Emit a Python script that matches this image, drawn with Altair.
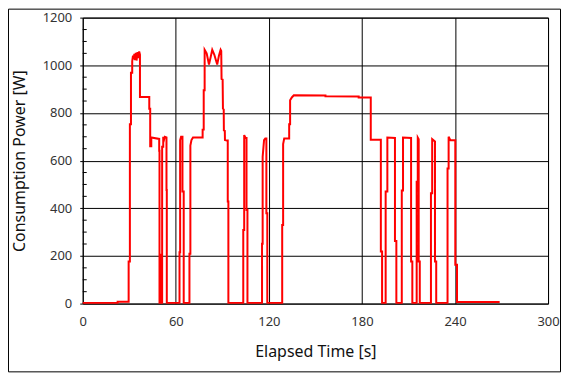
import altair as alt
import pandas as pd

# Elapsed time [s] and consumption power [W] (step-like trace)
time_s = [
    0, 22.5, 22.5, 29.6, 29.6, 30.4, 30.4, 31.1, 31.1, 31.9, 31.9, 32.4, 32.8, 33.3, 33.7, 34.2, 34.7,
    35.3, 35.8, 36.4, 36.9, 36.9, 42.9, 42.9, 43.5, 43.5, 44.2, 44.2, 49.3, 49.3, 49.5, 49.5, 50.1,
    50.1, 50.6, 50.6, 51.2, 51.2, 51.9, 51.9, 52.5, 52.9, 54.0, 54.0, 54.2, 54.2,
    62.4, 62.4, 62.8, 62.8, 63.4, 64.3, 64.3, 65.1, 65.1,
    68.8, 68.8, 69.4, 69.4, 70.1, 71.1, 77.3, 77.3, 78.0, 78.0, 78.6, 78.6, 79.9, 81.4, 82.5, 83.5,
    84.8, 86.7, 87.8, 88.9, 89.3, 89.5, 90.2, 90.4, 90.9, 91.0, 91.6, 91.7, 92.8, 93.5, 93.5, 93.9, 93.9,
    103.5, 103.5, 104.1, 104.1, 105.0, 105.6, 105.6, 106.2, 106.2,
    115.6, 115.6, 116.0, 116.0, 116.9, 117.7, 118.4, 118.4, 119.0, 119.0,
    128.6, 128.6, 129.2, 129.2, 129.9, 133.1, 133.1, 133.7, 133.7, 134.8, 136.1, 156.5, 156.5, 177.9,
    177.9, 185.7, 185.7, 192.2, 192.2, 193.0, 193.0,
    195.3, 195.3, 196.4, 196.4, 201.3, 201.3, 202.2, 202.2,
    205.7, 205.7, 206.5, 206.5, 211.7, 211.7, 212.5, 212.5,
    215.3, 215.3, 216.0, 216.0, 216.6, 216.6, 217.3, 217.3,
    224.5, 224.5, 225.3, 225.3, 227.1, 227.1, 227.9, 227.9,
    235.2, 235.2, 235.9, 235.9, 237.1, 240.2, 240.2, 241.3, 241.3, 268.8,
]
power_w = [
    3, 3, 8, 8, 177, 177, 753, 753, 969, 969, 1017, 1040, 1025, 1048, 1022, 1052, 1020,
    1055, 1030, 1058, 1045, 867, 867, 818, 818, 660, 660, 697, 691, 641, 641, 3, 3,
    205, 205, 3, 3, 658, 658, 700, 690, 700, 697, 477, 477, 3,
    3, 215, 215, 686, 700, 700, 470, 470, 3,
    3, 209, 209, 663, 686, 697, 697, 730, 730, 895, 895, 1065, 1050, 1003, 1035, 1065,
    1045, 1003, 1040, 1065, 1060, 943, 940, 818, 815, 727, 725, 686, 684, 684, 428, 428, 3,
    3, 309, 309, 707, 695, 695, 393, 393, 3,
    3, 251, 251, 616, 686, 693, 693, 379, 379, 3,
    3, 330, 330, 669, 693, 693, 753, 753, 853, 865, 874, 873, 870, 869,
    865, 865, 688, 688, 219, 219, 3,
    3, 470, 470, 697, 695, 263, 263, 3,
    3, 475, 475, 697, 695, 177, 177, 3,
    3, 511, 511, 697, 690, 177, 177, 3,
    3, 463, 463, 690, 680, 177, 177, 3,
    3, 567, 567, 700, 685, 685, 163, 163, 7, 7,
]

x_ticks = [0, 60, 120, 180, 240, 300]
y_ticks = [0, 200, 400, 600, 800, 1000, 1200]
y_minor = [50, 100, 150, 250, 300, 350, 450, 500, 550, 650, 700, 750, 850, 900, 950, 1050, 1100, 1150]

W, H = 467, 287
PAD = {"left": 75, "top": 9, "right": 13, "bottom": 69}

df = pd.DataFrame({"t": time_s, "p": power_w, "i": list(range(len(time_s)))})
minor_df = pd.DataFrame({"p": y_minor})
one = pd.DataFrame({"a": [0]})

FONT = "Noto Sans"

x_scale = alt.Scale(domain=[0, 300], nice=False, zero=False)
y_scale = alt.Scale(domain=[0, 1200], nice=False)

line = alt.Chart(df).mark_line(color="#ff0000", strokeWidth=2, strokeJoin="miter").encode(
    x=alt.X("t:Q", scale=x_scale,
            axis=alt.Axis(values=x_ticks, format="d", title="Elapsed Time [s]", grid=True,
                          gridColor="#000000", gridOpacity=1, gridWidth=1, domain=False, ticks=False,
                          labelPadding=12, labelFlush=False,
                          labelFontSize=13, labelColor="#333333", labelFont=FONT,
                          titleFont=FONT, titleFontSize=16, titleFontWeight="normal",
                          titleColor="#111111", titleY=48, titleBaseline="middle")),
    y=alt.Y("p:Q", scale=y_scale,
            axis=alt.Axis(values=y_ticks, format="d", title="Consumption Power [W]", grid=True,
                          gridColor="#000000", gridOpacity=1, gridWidth=1, domain=False, ticks=True,
                          tickSize=3, tickColor="#000000", labelPadding=8, labelFontSize=13,
                          labelFlush=False,
                          labelColor="#333333", labelFont=FONT, titleFont=FONT, titleFontSize=16,
                          titleFontWeight="normal", titleColor="#111111", titleX=-63,
                          titleBaseline="middle")),
    order=alt.Order("i:Q"),
)

minor = alt.Chart(minor_df).mark_rule(color="#000000", strokeWidth=1).encode(
    y=alt.Y("p:Q", scale=y_scale),
    x=alt.value(0),
    x2=alt.value(4),
)

border = alt.Chart(one).mark_rect(fillOpacity=0, stroke="#000000", strokeWidth=1).encode(
    x=alt.value(-PAD["left"] + 0.5),
    x2=alt.value(W + PAD["right"] - 0.5),
    y=alt.value(-PAD["top"] + 0.5),
    y2=alt.value(H + PAD["bottom"] - 0.5),
)

chart = alt.layer(border, minor, line).properties(
    width=W, height=H, autosize=alt.AutoSizeParams(type="none"), padding=PAD,
    background="#ffffff",
).configure_view(stroke="#000000", strokeWidth=1)

chart.save("out.html", embed_options={"renderer": "svg", "actions": False})
